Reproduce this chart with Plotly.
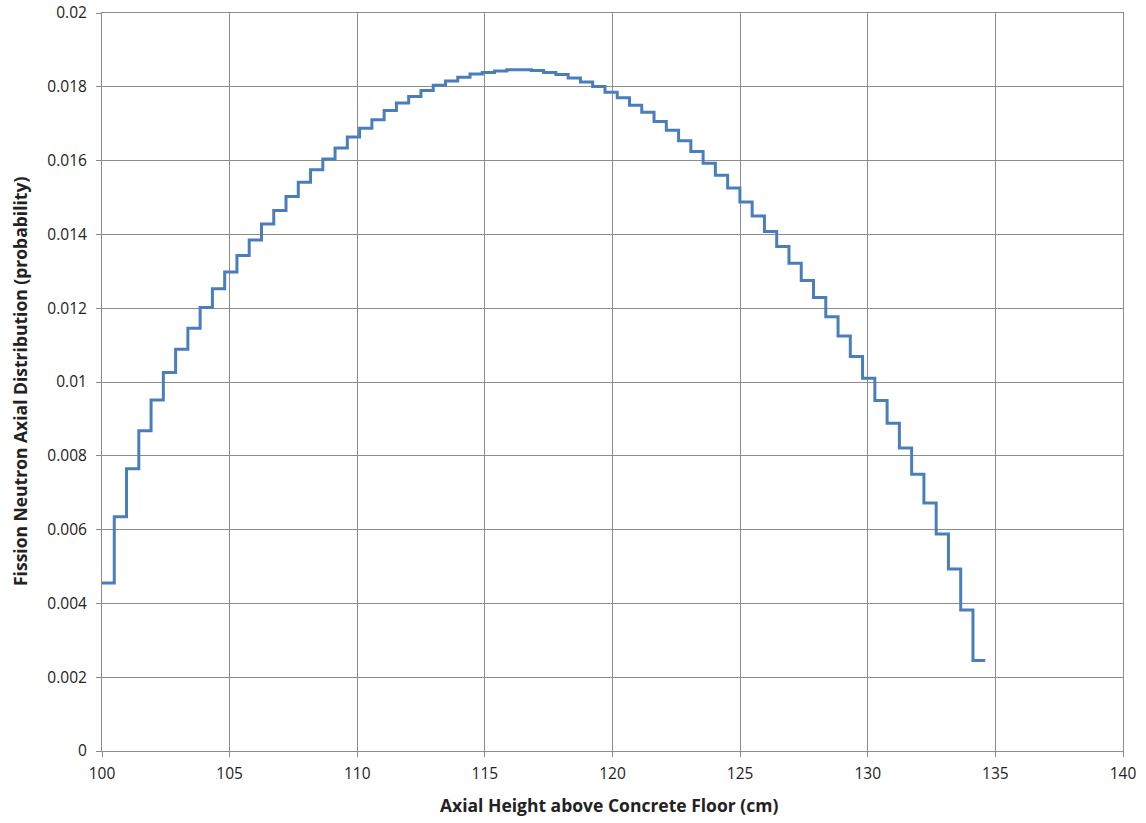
import plotly.graph_objects as go

# Axial bins (cm) and fission neutron probability per bin
bin_start = 100.0
bin_width = 0.4806
probability = [
    0.00455, 0.00635, 0.00765, 0.00868, 0.00951, 0.01026, 0.01089, 0.01146,
    0.01202, 0.01253, 0.01298, 0.01343, 0.01385, 0.01428, 0.01465, 0.01503,
    0.01541, 0.01575, 0.01604, 0.01634, 0.01664, 0.01688, 0.01711, 0.01736,
    0.01756, 0.01774, 0.01790, 0.01804, 0.01816, 0.01826, 0.01835, 0.01839,
    0.01843, 0.01846, 0.01846, 0.01844, 0.01839, 0.01833, 0.01824, 0.01813,
    0.01801, 0.01785, 0.01770, 0.01750, 0.01731, 0.01706, 0.01682, 0.01654,
    0.01625, 0.01593, 0.01560, 0.01526, 0.01488, 0.01450, 0.01408, 0.01367,
    0.01322, 0.01275, 0.01229, 0.01177, 0.01125, 0.01069, 0.01010, 0.00950,
    0.00888, 0.00821, 0.00750, 0.00672, 0.00588, 0.00493, 0.00382, 0.00245,
]
x_ticks = [100, 105, 110, 115, 120, 125, 130, 135, 140]
y_ticks = [0, 0.002, 0.004, 0.006, 0.008, 0.01, 0.012, 0.014, 0.016, 0.018, 0.02]
y_ticklabels = ["0", "0.002", "0.004", "0.006", "0.008", "0.01", "0.012",
                "0.014", "0.016", "0.018", "0.02"]
x_title = "Axial Height above Concrete Floor (cm)"
y_title = "Fission Neutron Axial Distribution (probability)"

edges = [bin_start + i * bin_width for i in range(len(probability) + 1)]
yvals = probability + [probability[-1]]

fig = go.Figure()
fig.add_trace(go.Scatter(
    x=edges, y=yvals, mode="lines", line_shape="hv",
    line=dict(color="#4A7EBB", width=3), showlegend=False,
))

font = "Open Sans, Liberation Sans, Arial, sans-serif"
grid = "#8C8C8C"
tickfont = dict(family=font, size=15.5, color="#222222")
fig.update_layout(
    width=1146, height=823,
    margin=dict(l=102, r=23, t=13, b=72),
    paper_bgcolor="white", plot_bgcolor="white",
    font=dict(family=font, size=15.5, color="#222222"),
    xaxis=dict(
        range=[100, 140], tickvals=x_ticks, ticktext=[str(v) for v in x_ticks],
        tickfont=tickfont, automargin=False, ticklabelstandoff=3,
        showgrid=True, gridcolor=grid, gridwidth=1,
        showline=True, linecolor=grid, linewidth=1, mirror=True,
        ticks="outside", ticklen=5, tickcolor=grid,
        zeroline=False,
    ),
    yaxis=dict(
        range=[0, 0.02], tickvals=y_ticks, ticktext=y_ticklabels,
        tickfont=tickfont, automargin=False, ticklabelstandoff=6,
        showgrid=True, gridcolor=grid, gridwidth=1,
        showline=True, linecolor=grid, linewidth=1, mirror=True,
        ticks="outside", ticklen=5, tickcolor=grid,
        zeroline=False,
    ),
    annotations=[
        dict(text="<b>" + x_title + "</b>", xref="paper", yref="paper",
             x=0.497, y=-0.0732, yanchor="middle", xanchor="center",
             showarrow=False, font=dict(family=font, size=17.5, color="#222222")),
        dict(text="<b>" + y_title + "</b>", xref="paper", yref="paper",
             x=-0.0803, y=0.5, xanchor="center", yanchor="middle", textangle=-90,
             showarrow=False, font=dict(family=font, size=17.5, color="#222222")),
    ],
)

fig.write_html("out.html",
               config={"displayModeBar": False},
               post_script="document.body.style.margin='0';")
